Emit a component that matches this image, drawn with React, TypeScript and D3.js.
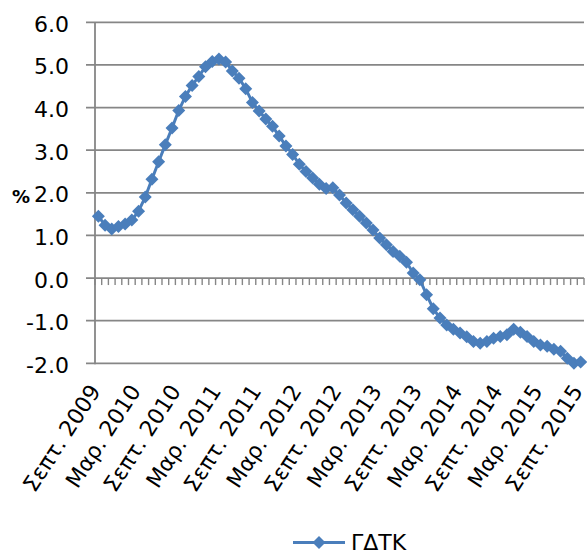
import React from "react";
import * as d3 from "d3";

// Monthly series, Σεπτ. 2009 – Σεπτ. 2015 (12-month average, %)
const months: string[] = (() => {
  const names = ["Ιαν.", "Φεβ.", "Μαρ.", "Απρ.", "Μαΐ.", "Ιουν.", "Ιουλ.", "Αυγ.", "Σεπτ.", "Οκτ.", "Νοε.", "Δεκ."];
  const out: string[] = [];
  for (let k = 0; k < 73; k++) {
    const m = (8 + k) % 12;
    const y = 2009 + Math.floor((8 + k) / 12);
    out.push(`${names[m]} ${y}`);
  }
  return out;
})();

const values: number[] = [
  1.45, 1.24, 1.15, 1.21, 1.27, 1.36, 1.57, 1.9, 2.32, 2.73,
  3.13, 3.52, 3.93, 4.26, 4.52, 4.73, 4.96, 5.08, 5.14, 5.07,
  4.86, 4.69, 4.44, 4.12, 3.92, 3.73, 3.56, 3.33, 3.1, 2.9,
  2.67, 2.5, 2.35, 2.2, 2.1, 2.12, 1.95, 1.76, 1.6, 1.45,
  1.29, 1.13, 0.94, 0.78, 0.62, 0.51, 0.37, 0.12, -0.04, -0.39,
  -0.72, -0.94, -1.1, -1.2, -1.29, -1.38, -1.49, -1.53, -1.49, -1.41,
  -1.37, -1.33, -1.2, -1.27, -1.37, -1.49, -1.57, -1.6, -1.67, -1.72,
  -1.88, -2.0, -1.97,
];

const yTicks: number[] = [-2, -1, 0, 1, 2, 3, 4, 5, 6];
const seriesName = "ΓΔΤΚ";
const unitLabel = "%";

const W = 587;
const H = 555;
const BLUE = "#4A7EBB";
const GRID = "#868686";
const FONT = "'DejaVu Sans', Verdana, sans-serif";

export default function App() {
  const x = d3.scaleBand<string>().domain(months).range([95, 584]).padding(0);
  const y = d3.scaleLinear().domain([-2, 6]).range([363.3, 22.3]);
  const cx = (m: string) => (x(m) as number) + x.bandwidth() / 2;

  const line = d3
    .line<number>()
    .x((_, i) => cx(months[i]))
    .y((v) => y(v));

  const diamond = (px: number, py: number, r: number) =>
    `M${px},${py - r}L${px + r},${py}L${px},${py + r}L${px - r},${py}Z`;

  const boundaries = d3.range(months.length + 1).map((k) => 95 + k * x.step());
  const labelIdx = d3.range(0, months.length, 6);
  const y0 = y(0);

  return (
    <svg
      width={W}
      height={H}
      style={{ position: "absolute", left: 0, top: 0, background: "#fff" }}
      fontFamily={FONT}
    >
      {/* horizontal gridlines with outside tick marks */}
      {yTicks.map((t) => (
        <line key={t} x1={86} x2={584} y1={y(t)} y2={y(t)} stroke={GRID} strokeWidth={1.8} />
      ))}
      {/* value axis */}
      <line x1={95} x2={95} y1={y(6)} y2={y(-2) + 0.9} stroke={GRID} strokeWidth={1.8} />
      {/* category ticks along the zero line */}
      {boundaries.map((bx, k) => (
        <line key={k} x1={bx} x2={bx} y1={y0} y2={y0 + 7} stroke={GRID} strokeWidth={1.4} />
      ))}
      {/* y tick labels */}
      {yTicks.map((t) => (
        <text key={t} x={69} y={y(t) + 9.5} fontSize={22} textAnchor="end" fill="#000">
          {t.toFixed(1)}
        </text>
      ))}
      <text x={12} y={202.5} fontSize={18} fontWeight="bold" fill="#000">
        {unitLabel}
      </text>
      {/* x tick labels */}
      {labelIdx.map((k) => {
        const px = cx(months[k]) + 3;
        const py = 391;
        return (
          <text
            key={k}
            x={px}
            y={py}
            fontSize={22}
            textAnchor="end"
            fill="#000"
            transform={`rotate(-57, ${px}, ${py})`}
          >
            {months[k]}
          </text>
        );
      })}
      {/* series */}
      <path d={line(values) ?? ""} fill="none" stroke={BLUE} strokeWidth={3} strokeLinejoin="round" />
      {values.map((v, i) => (
        <path key={i} d={diamond(cx(months[i]), y(v), 6.5)} fill={BLUE} />
      ))}
      {/* legend */}
      <line x1={293} x2={345} y1={542.5} y2={542.5} stroke={BLUE} strokeWidth={3} />
      <path d={diamond(319, 542.5, 6.5)} fill={BLUE} />
      <text x={351} y={549.5} fontSize={22} fill="#000">
        {seriesName}
      </text>
    </svg>
  );
}
